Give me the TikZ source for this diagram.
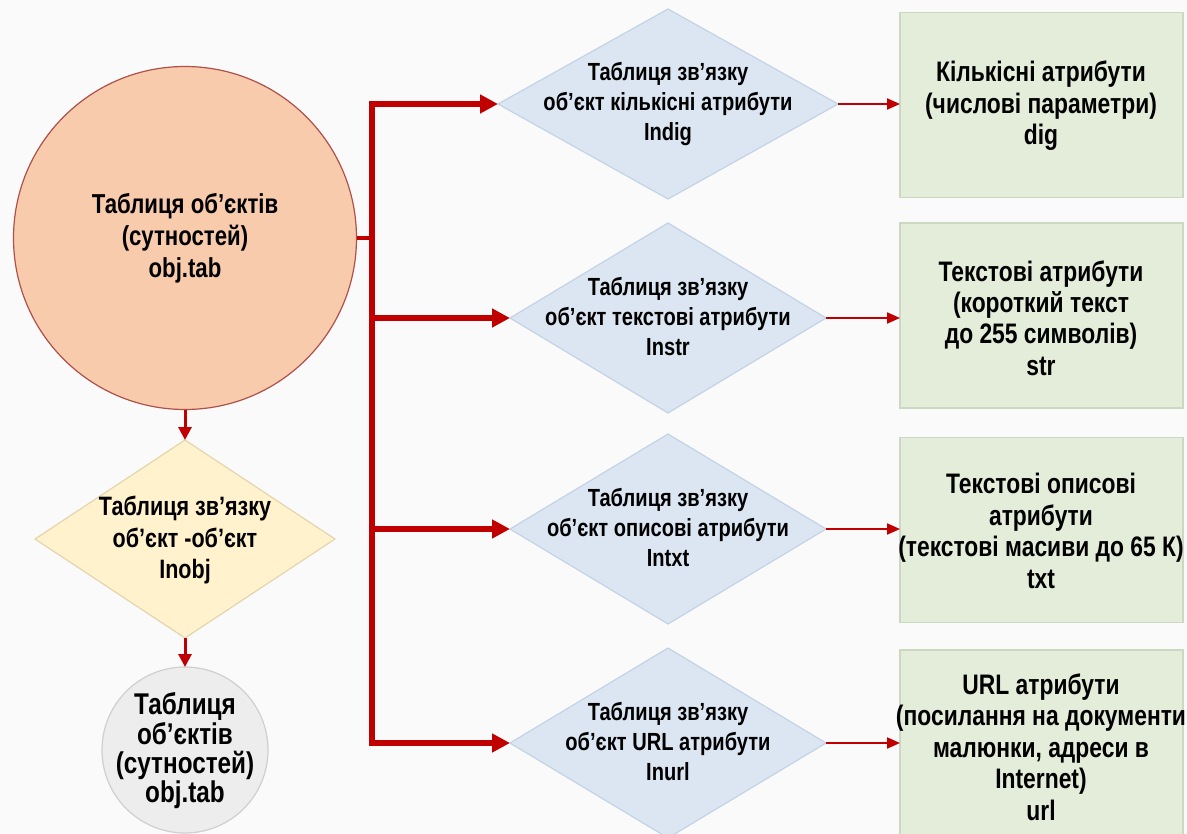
\documentclass[tikz,border=0pt]{standalone}
\usepackage{fontspec}
\setmainfont{Liberation Sans}[FakeStretch=0.81]
\usetikzlibrary{shapes.geometric,arrows.meta}
\definecolor{bgc}{HTML}{FAFAFA}
\definecolor{redc}{HTML}{C00000}
\definecolor{peach}{HTML}{F8CBAD}
\definecolor{peachline}{HTML}{B0504A}
\definecolor{bluef}{HTML}{DCE6F2}
\definecolor{bluel}{HTML}{C3D3E6}
\definecolor{greenf}{HTML}{E4EDDA}
\definecolor{greenl}{HTML}{CCD8C2}
\definecolor{yellowf}{HTML}{FFF2CC}
\definecolor{yellowl}{HTML}{E3D6AE}
\definecolor{grayf}{HTML}{EDEDED}
\definecolor{grayl}{HTML}{CFCFCF}
\tikzset{
  dia/.style={diamond, fill=bluef, draw=bluel, line width=0.6pt, inner sep=0pt, outer sep=0pt},
  ydia/.style={diamond, fill=yellowf, draw=yellowl, line width=0.6pt, inner sep=0pt, outer sep=0pt},
  gbox/.style={rectangle, fill=greenf, draw=greenl, line width=0.6pt, minimum width=141.5pt, minimum height=92.5pt, inner sep=0pt, outer sep=0pt},
  dtxt/.style={align=center, inner sep=0pt, font=\bfseries\fontsize{12.4}{15}\selectfont},
  btxt/.style={align=center, inner sep=0pt, font=\bfseries\fontsize{14.1}{15.7}\selectfont},
  ctxt/.style={align=center, inner sep=0pt, font=\bfseries\fontsize{13.7}{16}\selectfont},
  ytxt/.style={align=center, inner sep=0pt, font=\bfseries\fontsize{13.3}{16}\selectfont},
  gtxt/.style={align=center, inner sep=0pt, font=\bfseries\fontsize{15}{14.7}\selectfont},
  thickarrow/.style={draw=redc, line width=3pt, -{Triangle[length=9pt,width=9pt]}},
  thinarrow/.style={draw=redc, line width=1pt, -{Triangle[length=6.5pt,width=5.5pt]}},
  vertarrow/.style={draw=redc, line width=1.5pt, -{Triangle[length=6.5pt,width=6.5pt]}},
}
\begin{document}
\begin{tikzpicture}[x=0.5pt,y=-0.5pt]
\fill[bgc] (0,0) rectangle (1187,834);
\useasboundingbox (0,0) rectangle (1187,834);

% left column
\node[circle, fill=peach, draw=peachline, line width=0.6pt, minimum size=171.5pt, inner sep=0pt, outer sep=0pt] (c1) at (185,238) {};
\node[ctxt] (c1t) at (185,238) {Таблиця об'єктів\\(сутностей)\\obj.tab};

\node[ydia, minimum width=150pt, minimum height=99pt] (y1) at (185,539) {};
\node[ytxt] (y1t) at (185,540) {Таблиця зв'язку\\об'єкт -об'єкт\\Inobj};

\node[circle, fill=grayf, draw=grayl, line width=0.6pt, minimum size=83pt, inner sep=0pt, outer sep=0pt] (c2) at (185,750) {};
\node[gtxt] (c2t) at (185,751) {Таблиця\\об’єктів\\(сутностей)\\obj.tab};

% diamonds
\node[dia, minimum width=170pt, minimum height=95pt] (d1) at (668,104) {};
\node[dtxt] (d1t) at (668,104) {Таблиця зв'язку\\об'єкт кількісні атрибути\\Indig};
\node[dia, minimum width=158pt, minimum height=95pt] (d2) at (668,318) {};
\node[dtxt] (d2t) at (668,317) {Таблиця зв'язку\\об'єкт текстові атрибути\\Instr};
\node[dia, minimum width=158pt, minimum height=95pt] (d3) at (668,529) {};
\node[dtxt] (d3t) at (668,528) {Таблиця зв'язку\\об'єкт описові атрибути\\Intxt};
\node[dia, minimum width=158pt, minimum height=95pt] (d4) at (668,743) {};
\node[dtxt] (d4t) at (668,742) {Таблиця зв'язку\\об'єкт URL атрибути\\Inurl};

% green boxes
\node[gbox] (b1) at (1041.5,105) {};
\node[btxt] (b1t) at (1041,106) {Кількісні атрибути\\(числові параметри)\\dig};
\node[gbox] (b2) at (1041.5,315.5) {};
\node[btxt] (b2t) at (1041,318) {Текстові атрибути\\(короткий текст\\до 255 символів)\\str};
\node[gbox] (b3) at (1041.5,530) {};
\node[btxt] (b3t) at (1041,531) {Текстові описові\\атрибути\\(текстові масиви до 65 К)\\txt};
\node[gbox] (b4) at (1041.5,742.5) {};
\node[btxt] (b4t) at (1041,747) {URL атрибути\\(посилання на документи\\малюнки, адреси в\\Internet)\\url};

% connectors
\coordinate (j) at (372,238);
\draw[draw=redc, line width=2pt] (c1.east) -- (j);
\draw[thickarrow] (j) |- (d1.west);
\draw[thickarrow] (j) |- (d2.west);
\draw[thickarrow] (j) |- (d3.west);
\draw[thickarrow] (j) |- (d4.west);

\draw[thinarrow] (d1.east) -- (d1.east -| b1.west);
\draw[thinarrow] (d2.east) -- (d2.east -| b2.west);
\draw[thinarrow] (d3.east) -- (d3.east -| b3.west);
\draw[thinarrow] (d4.east) -- (d4.east -| b4.west);

\draw[vertarrow] (c1.south) -- (y1.north);
\draw[vertarrow] (y1.south) -- (c2.north);
\end{tikzpicture}
\end{document}
